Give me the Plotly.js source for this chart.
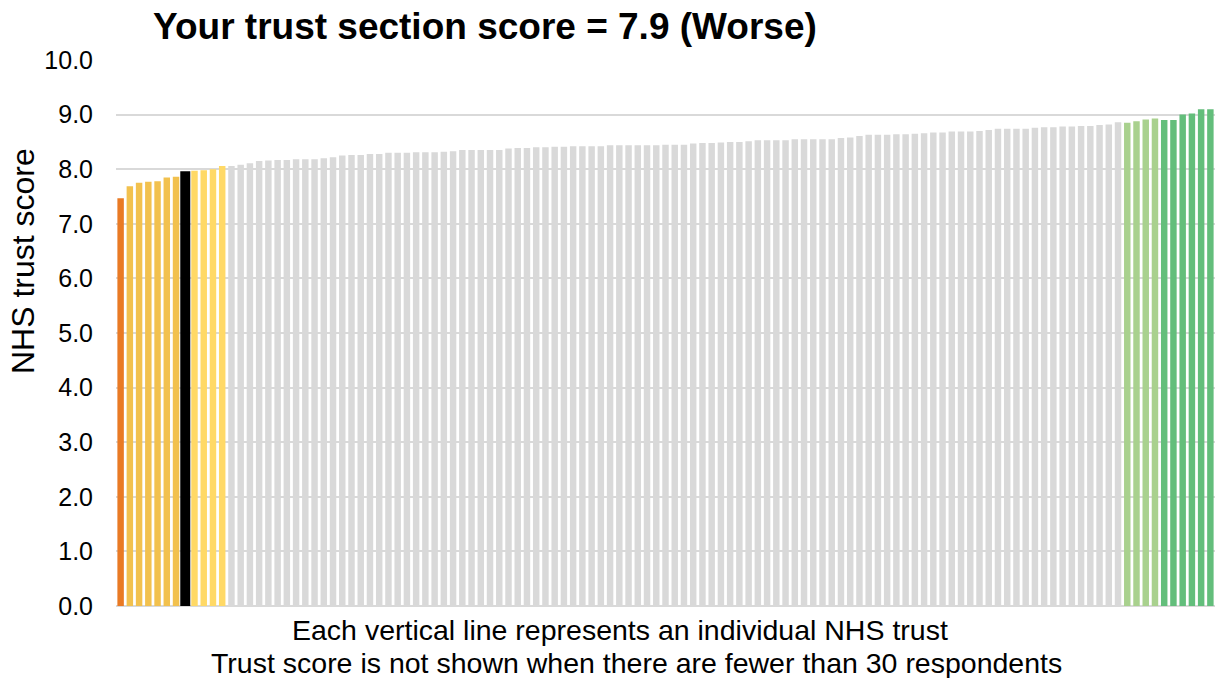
<!DOCTYPE html>
<html>
<head>
<meta charset="utf-8">
<script src="https://cdn.plot.ly/plotly-3.0.1.min.js"></script>
<style>
  html, body { margin: 0; padding: 0; background: #ffffff; }
  #chart { width: 1217px; height: 678px; }
</style>
</head>
<body>
<div id="chart"></div>
<script>
// Trust scores, sorted ascending (one value per NHS trust)
const scores = [
  7.47, 7.69, 7.75, 7.77, 7.78, 7.85, 7.86, 7.93, 7.97, 7.98,
  8.00, 8.06, 8.06, 8.08, 8.11, 8.15, 8.16, 8.17, 8.17, 8.18,
  8.18, 8.18, 8.20, 8.22, 8.25, 8.26, 8.26, 8.28, 8.28, 8.30,
  8.30, 8.30, 8.31, 8.31, 8.31, 8.32, 8.33, 8.35, 8.35, 8.35,
  8.35, 8.35, 8.38, 8.39, 8.39, 8.40, 8.40, 8.41, 8.41, 8.42,
  8.42, 8.42, 8.42, 8.44, 8.44, 8.44, 8.44, 8.44, 8.44, 8.45,
  8.45, 8.45, 8.47, 8.48, 8.48, 8.49, 8.50, 8.50, 8.51, 8.53,
  8.53, 8.53, 8.53, 8.55, 8.55, 8.55, 8.55, 8.55, 8.57, 8.58,
  8.61, 8.63, 8.63, 8.63, 8.64, 8.64, 8.65, 8.66, 8.67, 8.67,
  8.69, 8.69, 8.69, 8.70, 8.72, 8.74, 8.74, 8.74, 8.74, 8.76,
  8.77, 8.77, 8.78, 8.78, 8.79, 8.79, 8.81, 8.82, 8.86, 8.85,
  8.88, 8.91, 8.93, 8.90, 8.90, 9.00, 9.02, 9.10, 9.10
];
// Band of each run of trusts (band name, number of trusts)
const bandNames  = ["lowest", "lower", "yours", "lowMid", "middle", "highMid", "highest"];
const bandCounts = [1, 6, 1, 4, 97, 4, 6];

const titleText = "Your trust section score = 7.9 (Worse)";
const yTitleText = "NHS trust score";
const noteLine1 = "Each vertical line represents an individual NHS trust";
const noteLine2 = "Trust score is not shown when there are fewer than 30 respondents";

const bandColor = {
  lowest: "#E97A24", lower: "#F2C14E", yours: "#000000", lowMid: "#FFD966",
  middle: "#D9D9D9", highMid: "#A9D18E", highest: "#63BE7B"
};

const xs = scores.map((_, i) => i + 1);
const colors = [];
const lineW = [];
bandNames.forEach((b, k) => {
  for (let j = 0; j < bandCounts[k]; j++) {
    colors.push(bandColor[b]);
    lineW.push(b === "yours" ? 3.5 : 0);
  }
});

const FONT = "Liberation Sans, Arial, Helvetica, sans-serif";

const trace = {
  type: "bar",
  x: xs,
  y: scores,
  marker: { color: colors, line: { color: "#000000", width: lineW } },
  hoverinfo: "y"
};

const L = 116, R = 2, T = 60, B = 72;
const W = 1217, H = 678;
const pw = W - L - R, ph = H - T - B;
const px2x = p => (p - L) / pw;
const py2y = p => (H - B - p) / ph;

const layout = {
  width: W, height: H,
  margin: { l: L, r: R, t: T, b: B, pad: 0 },
  paper_bgcolor: "#ffffff",
  plot_bgcolor: "#ffffff",
  bargap: 0.3,
  showlegend: false,
  font: { family: FONT, color: "#000000" },
  title: {
    text: "<b>" + titleText + "</b>",
    xref: "container", yref: "container",
    x: 153 / W, xanchor: "left",
    y: 1 - 26 / H, yanchor: "middle",
    font: { family: FONT, size: 37, color: "#000000" }
  },
  xaxis: {
    range: [0.5, scores.length + 0.5],
    showticklabels: false,
    ticks: "",
    showgrid: false,
    zeroline: false,
    showline: false,
    fixedrange: true
  },
  yaxis: {
    range: [0, 10],
    tickmode: "linear", tick0: 0, dtick: 1,
    tickformat: ".1f",
    tickfont: { family: FONT, size: 25, color: "#000000" },
    ticks: "",
    ticklabelstandoff: 22,
    showgrid: true, gridcolor: "#D9D9D9", gridwidth: 2,
    zeroline: true, zerolinecolor: "#D9D9D9", zerolinewidth: 2,
    showline: false,
    fixedrange: true
  },
  annotations: [
    {
      text: yTitleText, textangle: -90,
      xref: "paper", yref: "paper",
      x: px2x(23), y: py2y(261),
      xanchor: "center", yanchor: "middle",
      showarrow: false,
      font: { family: FONT, size: 32, color: "#000000" }
    },
    {
      text: noteLine1,
      xref: "paper", yref: "paper",
      x: px2x(620), y: py2y(630),
      xanchor: "center", yanchor: "middle",
      showarrow: false,
      font: { family: FONT, size: 28.5, color: "#000000" }
    },
    {
      text: noteLine2,
      xref: "paper", yref: "paper",
      x: px2x(636.5), y: py2y(663),
      xanchor: "center", yanchor: "middle",
      showarrow: false,
      font: { family: FONT, size: 28.5, color: "#000000" }
    }
  ]
};

Plotly.newPlot("chart", [trace], layout, { displayModeBar: false, staticPlot: true });
</script>
</body>
</html>
